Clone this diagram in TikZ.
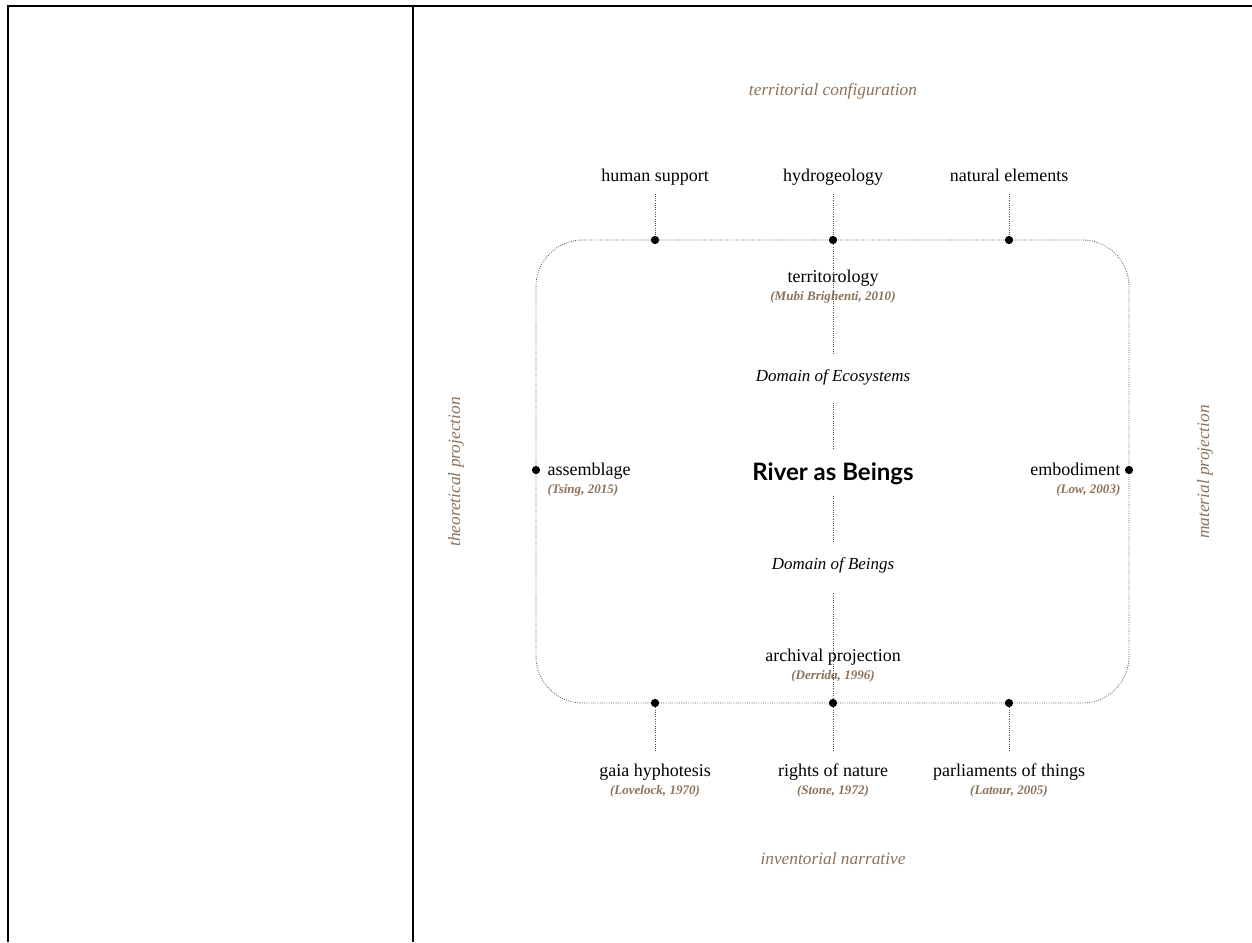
\documentclass[tikz,border=0pt]{standalone}
\usepackage{fontspec}
\setmainfont{Liberation Serif}
\newfontfamily\titlefont{Lato}
\usepackage{xcolor}
\usetikzlibrary{positioning}
\definecolor{citebrown}{RGB}{140,114,90}

\begin{document}
\begin{tikzpicture}[x=0.75pt,y=-0.75pt,
 frame/.style={line width=2.2pt},
 dots/.style={line width=0.6pt,black!70,dash pattern=on 0.6pt off 1.1pt},
 dot/.style={circle,fill,inner sep=0pt,minimum size=6.2pt},
 lab/.style={font=\fontsize{13.5}{15}\selectfont,inner sep=1pt,text height=9.5pt,text depth=3pt},
 ref/.style={font=\fontsize{9.8}{11}\selectfont\bfseries\itshape,text=citebrown,inner sep=1pt,text height=7pt,text depth=2.4pt},
 axis/.style={font=\fontsize{13}{15}\selectfont\itshape,text=citebrown},
 domainlab/.style={font=\fontsize{12.7}{14}\selectfont\itshape,inner sep=1pt,text height=9pt,text depth=3pt}]
\useasboundingbox (0,0) rectangle (1252,942);
\draw[frame] (8,942) -- (8,6) -- (1252,6) (413,6) -- (413,942);

% frame of the diagram
\draw[dots,rounded corners=35pt] (536,240) rectangle (1129,703);

% points on the frame
\node[dot] (t1) at (655,240) {};
\node[dot] (t2) at (833,240) {};
\node[dot] (t3) at (1009,240) {};
\node[dot] (b1) at (655,703) {};
\node[dot] (b2) at (833,703) {};
\node[dot] (b3) at (1009,703) {};
\node[dot] (l1) at (536,470) {};
\node[dot] (r1) at (1129,470) {};

% axes
\node[axis] (config) at (833,91) {territorial configuration};
\node[axis] (narr) at (833,859) {inventorial narrative};
\node[axis,rotate=90] (theo) at (456,472) {theoretical projection};
\node[axis,rotate=90] (mat) at (1205,472) {material projection};

% top
\node[lab] (human) at (655,177) {human support};
\node[lab] (hydro) at (833,177) {hydrogeology};
\node[lab] (natur) at (1009,177) {natural elements};
\draw[dots,shorten <=5pt] (human.south) -- (t1);
\draw[dots,shorten <=5pt] (hydro.south) -- (t2);
\draw[dots,shorten <=5pt] (natur.south) -- (t3);

% inside
\node[lab] (terri) at (833,278) {territorology};
\node[ref,below=1.5pt of terri] (mubi) {(Mubi Brighenti, 2010)};
\node[domainlab] (eco) at (833,377) {Domain of Ecosystems};
\node[font=\titlefont\bfseries\fontsize{18}{20}\selectfont,inner sep=1pt] (river) at (833,474) {River as Beings};
\node[domainlab] (beings) at (833,565) {Domain of Beings};
\node[lab] (archi) at (833,657) {archival projection};
\node[ref,below=1.5pt of archi] (derrida) {(Derrida, 1996)};
\draw[dots,shorten >=10pt] (t2) -- (eco.north);
\draw[dots,shorten <=12pt,shorten >=9pt] (eco.south) -- (river.north);
\draw[dots,shorten <=7pt,shorten >=10pt] (river.south) -- (beings.north);
\draw[dots,shorten <=14pt] (beings.south) -- (b2);

% sides
\node[lab,anchor=west] (assem) at (546,471) {assemblage};
\node[ref,anchor=north west,yshift=-1.5pt] (tsing) at (assem.south west) {(Tsing, 2015)};
\node[lab,anchor=east] (embod) at (1122,471) {embodiment};
\node[ref,anchor=north east,yshift=-1.5pt] (low) at (embod.south east) {(Low, 2003)};

% bottom
\node[lab] (gaia) at (655,772) {gaia hyphotesis};
\node[ref,below=1.5pt of gaia] (lovel) {(Lovelock, 1970)};
\node[lab] (rights) at (833,772) {rights of nature};
\node[ref,below=1.5pt of rights] (stone) {(Stone, 1972)};
\node[lab] (parl) at (1009,772) {parliaments of things};
\node[ref,below=1.5pt of parl] (latour) {(Latour, 2005)};
\draw[dots,shorten >=8pt] (b1) -- (gaia.north);
\draw[dots,shorten >=8pt] (b2) -- (rights.north);
\draw[dots,shorten >=8pt] (b3) -- (parl.north);
\end{tikzpicture}
\end{document}
